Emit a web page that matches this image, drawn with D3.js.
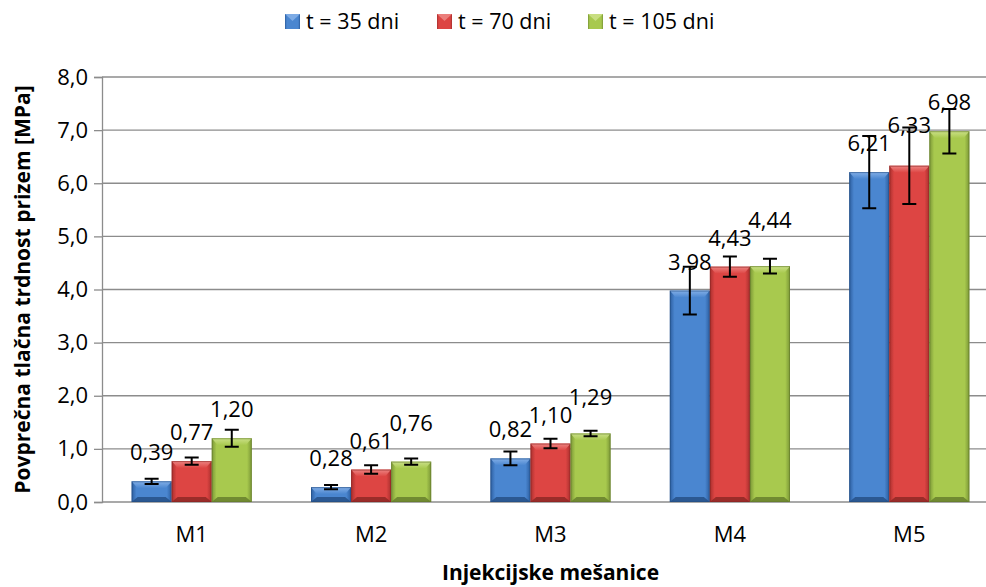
<!DOCTYPE html>
<html><head><meta charset="utf-8">
<script src="https://cdn.jsdelivr.net/npm/d3@7"></script>
<style>body{margin:0;background:#fff}svg{display:block}text{font-family:"Open Sans",sans-serif;fill:#000}</style>
</head><body><svg id="c" width="986" height="587"></svg>
<script>
const categories = ["M1","M2","M3","M4","M5"];
const seriesNames = ["t = 35 dni","t = 70 dni","t = 105 dni"];
const v35  = [0.39,0.28,0.82,3.98,6.21];
const v70  = [0.77,0.61,1.10,4.43,6.33];
const v105 = [1.20,0.76,1.29,4.44,6.98];
const e35  = [0.05,0.04,0.13,0.45,0.68];
const e70  = [0.07,0.08,0.09,0.19,0.72];
const e105 = [0.16,0.06,0.05,0.14,0.42];
const yTicks = [0,1,2,3,4,5,6,7,8];
const yTitle = "Povprečna tlačna trdnost prizem [MPa]";
const xTitle = "Injekcijske mešanice";

const values=[v35,v70,v105], errs=[e35,e70,e105];
const palette=[
 {mid:"#4a86d0",edge:"#2c5d9e",top:"#8ab4ea",bot:"#234c82"},
 {mid:"#dd4543",edge:"#a82f2d",top:"#ef8c8a",bot:"#8a2523"},
 {mid:"#a8c94e",edge:"#7a9636",top:"#cfe38f",bot:"#637a2b"}];

const svg=d3.select("#c");
const L=102,R=999,T=77,B=502;
const x=d3.scaleBand().domain(categories).range([L,R]).paddingInner(0.33).paddingOuter(0.165);
const xs=d3.scaleBand().domain([0,1,2]).range([0,x.bandwidth()]);
const y=d3.scaleLinear().domain([0,8]).range([B,T]);

const defs=svg.append("defs");
palette.forEach((p,i)=>{
  const g=defs.append("linearGradient").attr("id","g"+i).attr("x1",0).attr("x2",1).attr("y1",0).attr("y2",0);
  g.append("stop").attr("offset",0).attr("stop-color",p.edge);
  g.append("stop").attr("offset",0.12).attr("stop-color",p.mid);
  g.append("stop").attr("offset",0.5).attr("stop-color",p.mid);
  g.append("stop").attr("offset",0.88).attr("stop-color",p.mid);
  g.append("stop").attr("offset",1).attr("stop-color",p.edge);
  const gt=defs.append("linearGradient").attr("id","gt"+i).attr("x1",0).attr("x2",0).attr("y1",0).attr("y2",1);
  gt.append("stop").attr("offset",0).attr("stop-color",p.top);
  gt.append("stop").attr("offset",1).attr("stop-color",p.mid);
});

// grid
svg.append("g").selectAll("line").data(yTicks).join("line")
 .attr("x1",L).attr("x2",R).attr("y1",d=>y(d)).attr("y2",d=>y(d))
 .attr("stroke","#8c8c8c").attr("stroke-width",1.3);
// y axis
const ya=svg.append("g").attr("transform",`translate(${L},0)`).call(d3.axisLeft(y).tickValues(yTicks).tickSize(8).tickPadding(6).tickFormat(d=>d3.format(".1f")(d).replace(".",",")));
ya.select(".domain").attr("stroke","#8c8c8c").attr("stroke-width",1.3);
ya.selectAll(".tick line").attr("stroke","#8c8c8c").attr("stroke-width",1.3);
ya.selectAll(".tick text").attr("font-size",22).attr("font-family","Open Sans").attr("fill","#000");
// x axis
const xa=svg.append("g").attr("transform",`translate(0,${B})`).call(d3.axisBottom(x).tickSize(0).tickPadding(24));
xa.select(".domain").remove();
xa.selectAll(".tick text").attr("font-size",22).attr("font-family","Open Sans").attr("fill","#000");

// bars
values.forEach((vals,si)=>{
  const g=svg.append("g");
  const bw=xs.bandwidth();
  const grp=g.selectAll("g").data(categories).join("g").attr("transform",c=>`translate(${x(c)+xs(si)},0)`);
  grp.append("rect").attr("x",0).attr("width",bw).attr("y",(c,i)=>y(vals[i])).attr("height",(c,i)=>B-y(vals[i])).attr("fill",`url(#g${si})`);
  grp.append("path").attr("d",(c,i)=>{const t=y(vals[i]),h=Math.min(7,(B-t)/2);return `M0,${t}L${bw},${t}L${bw-6},${t+h}L6,${t+h}Z`;}).attr("fill",`url(#gt${si})`).attr("opacity",0.9);
  grp.append("path").attr("d",(c,i)=>{const t=y(vals[i]),h=Math.min(5,(B-t)/2);return `M0,${B}L${bw},${B}L${bw-6},${B-h}L6,${B-h}Z`;}).attr("fill",palette[si].bot).attr("opacity",0.8);
  grp.append("rect").attr("x",0.5).attr("width",bw-1).attr("y",(c,i)=>y(vals[i])+0.5).attr("height",(c,i)=>B-y(vals[i])-1).attr("fill","none").attr("stroke",palette[si].bot).attr("stroke-width",1).attr("opacity",0.6);
  const cx=bw/2;
  grp.append("path").attr("d",(c,i)=>{const a=y(vals[i]+errs[si][i]),b=y(vals[i]-errs[si][i]);return `M${cx},${a}V${b}M${cx-7},${a}H${cx+7}M${cx-7},${b}H${cx+7}`;})
   .attr("stroke","#000").attr("stroke-width",2).attr("fill","none");
});
// data labels (lift a label above its left neighbour when they would collide)
const labelG=svg.append("g");
categories.forEach((c,i)=>{
  let prev=null;
  values.forEach((vals,si)=>{
    let by=y(vals[i])-21;
    if(prev!==null && Math.abs(prev-by)<12) by=prev-18;
    prev=by;
    labelG.append("text").attr("x",x(c)+xs(si)+xs.bandwidth()/2).attr("y",by)
      .attr("text-anchor","middle").attr("font-size",22)
      .text(d3.format(".2f")(vals[i]).replace(".",","));
  });
});
// titles
svg.append("text").attr("x",(L+R)/2).attr("y",580).attr("text-anchor","middle").attr("font-size",21).attr("font-weight","bold").text(xTitle);
svg.append("text").attr("transform",`translate(30,${(T+B)/2}) rotate(-90)`).attr("text-anchor","middle").attr("font-size",21).attr("font-weight","bold").text(yTitle);
// legend
const legX=[285,437,588];
const lg=svg.append("g").selectAll("g").data(seriesNames).join("g").attr("transform",(d,i)=>`translate(${legX[i]},14)`);
lg.append("rect").attr("width",15).attr("height",15).attr("fill",(d,i)=>`url(#g${i})`);
lg.append("path").attr("d","M0,0L15,0L7.5,7Z").attr("fill",(d,i)=>palette[i].top).attr("opacity",0.8);
lg.append("text").attr("x",21).attr("y",15).attr("font-size",21.5).text(d=>d);
</script></body></html>
